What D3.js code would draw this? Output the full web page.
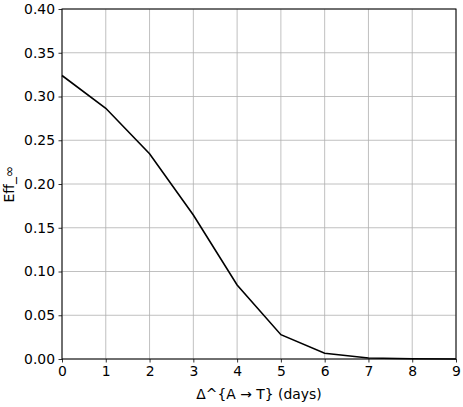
<!DOCTYPE html>
<html>
<head>
<meta charset="utf-8">
<script src="https://cdn.jsdelivr.net/npm/d3@7"></script>
<style>
  body { margin: 0; background: #fff; }
  svg text { font-family: "DejaVu Sans", sans-serif; }
</style>
</head>
<body>
<svg width="463" height="407"></svg>
<script>
var delays = [0, 1, 2, 3, 4, 5, 6, 7, 8, 9];
var effInf = [0.324, 0.2865, 0.2345, 0.1646, 0.0846, 0.0278, 0.0065, 0.0012, 0.0002, 0.0000];
var yTicks = [0, 0.05, 0.10, 0.15, 0.20, 0.25, 0.30, 0.35, 0.40];

var svg = d3.select("svg"),
    margin = {top: 9, right: 7, bottom: 48, left: 62},
    width = +svg.attr("width") - margin.left - margin.right,
    height = +svg.attr("height") - margin.top - margin.bottom;

var x = d3.scaleLinear().domain([0, 9]).range([0, width]),
    y = d3.scaleLinear().domain([0, 0.4]).range([height, 0]);

var g = svg.append("g")
    .attr("transform", "translate(" + margin.left + "," + margin.top + ")");

// grid
g.append("g")
    .selectAll("line")
    .data(delays)
    .enter().append("line")
    .attr("x1", function(d) { return x(d); })
    .attr("x2", function(d) { return x(d); })
    .attr("y1", 0).attr("y2", height)
    .attr("stroke", "#b0b0b0").attr("stroke-width", 0.8);

g.append("g")
    .selectAll("line")
    .data(yTicks)
    .enter().append("line")
    .attr("y1", function(d) { return y(d); })
    .attr("y2", function(d) { return y(d); })
    .attr("x1", 0).attr("x2", width)
    .attr("stroke", "#b0b0b0").attr("stroke-width", 0.8);

var xAxis = g.append("g")
    .attr("transform", "translate(0," + height + ")")
    .call(d3.axisBottom(x).tickValues(delays).tickFormat(d3.format("d")).tickSize(3.5).tickPadding(3.5));

var yAxis = g.append("g")
    .call(d3.axisLeft(y).tickValues(yTicks).tickFormat(d3.format(".2f")).tickSize(3.5).tickPadding(3.5));

[xAxis, yAxis].forEach(function(a) {
  a.select(".domain").remove();
  a.selectAll("text").attr("font-size", 13.9).attr("fill", "#000")
    .attr("font-family", "DejaVu Sans");
  a.selectAll("line").attr("stroke", "#000").attr("stroke-width", 0.8);
});

// frame
g.append("rect")
    .attr("width", width).attr("height", height)
    .attr("fill", "none").attr("stroke", "#000").attr("stroke-width", 1);

var line = d3.line()
    .x(function(d, i) { return x(delays[i]); })
    .y(function(d) { return y(d); });

g.append("path")
    .datum(effInf)
    .attr("fill", "none")
    .attr("stroke", "#000")
    .attr("stroke-width", 1.6)
    .attr("d", line);

svg.append("text")
    .attr("x", margin.left + width / 2)
    .attr("y", 399)
    .attr("text-anchor", "middle")
    .attr("font-size", 13.9)
    .text("\u0394^{A \u2192 T} (days)");

svg.append("text")
    .attr("transform", "translate(14," + (margin.top + height / 2) + ") rotate(-90)")
    .attr("text-anchor", "middle")
    .attr("font-size", 13.9)
    .text("Eff_\u221e");
</script>
</body>
</html>
